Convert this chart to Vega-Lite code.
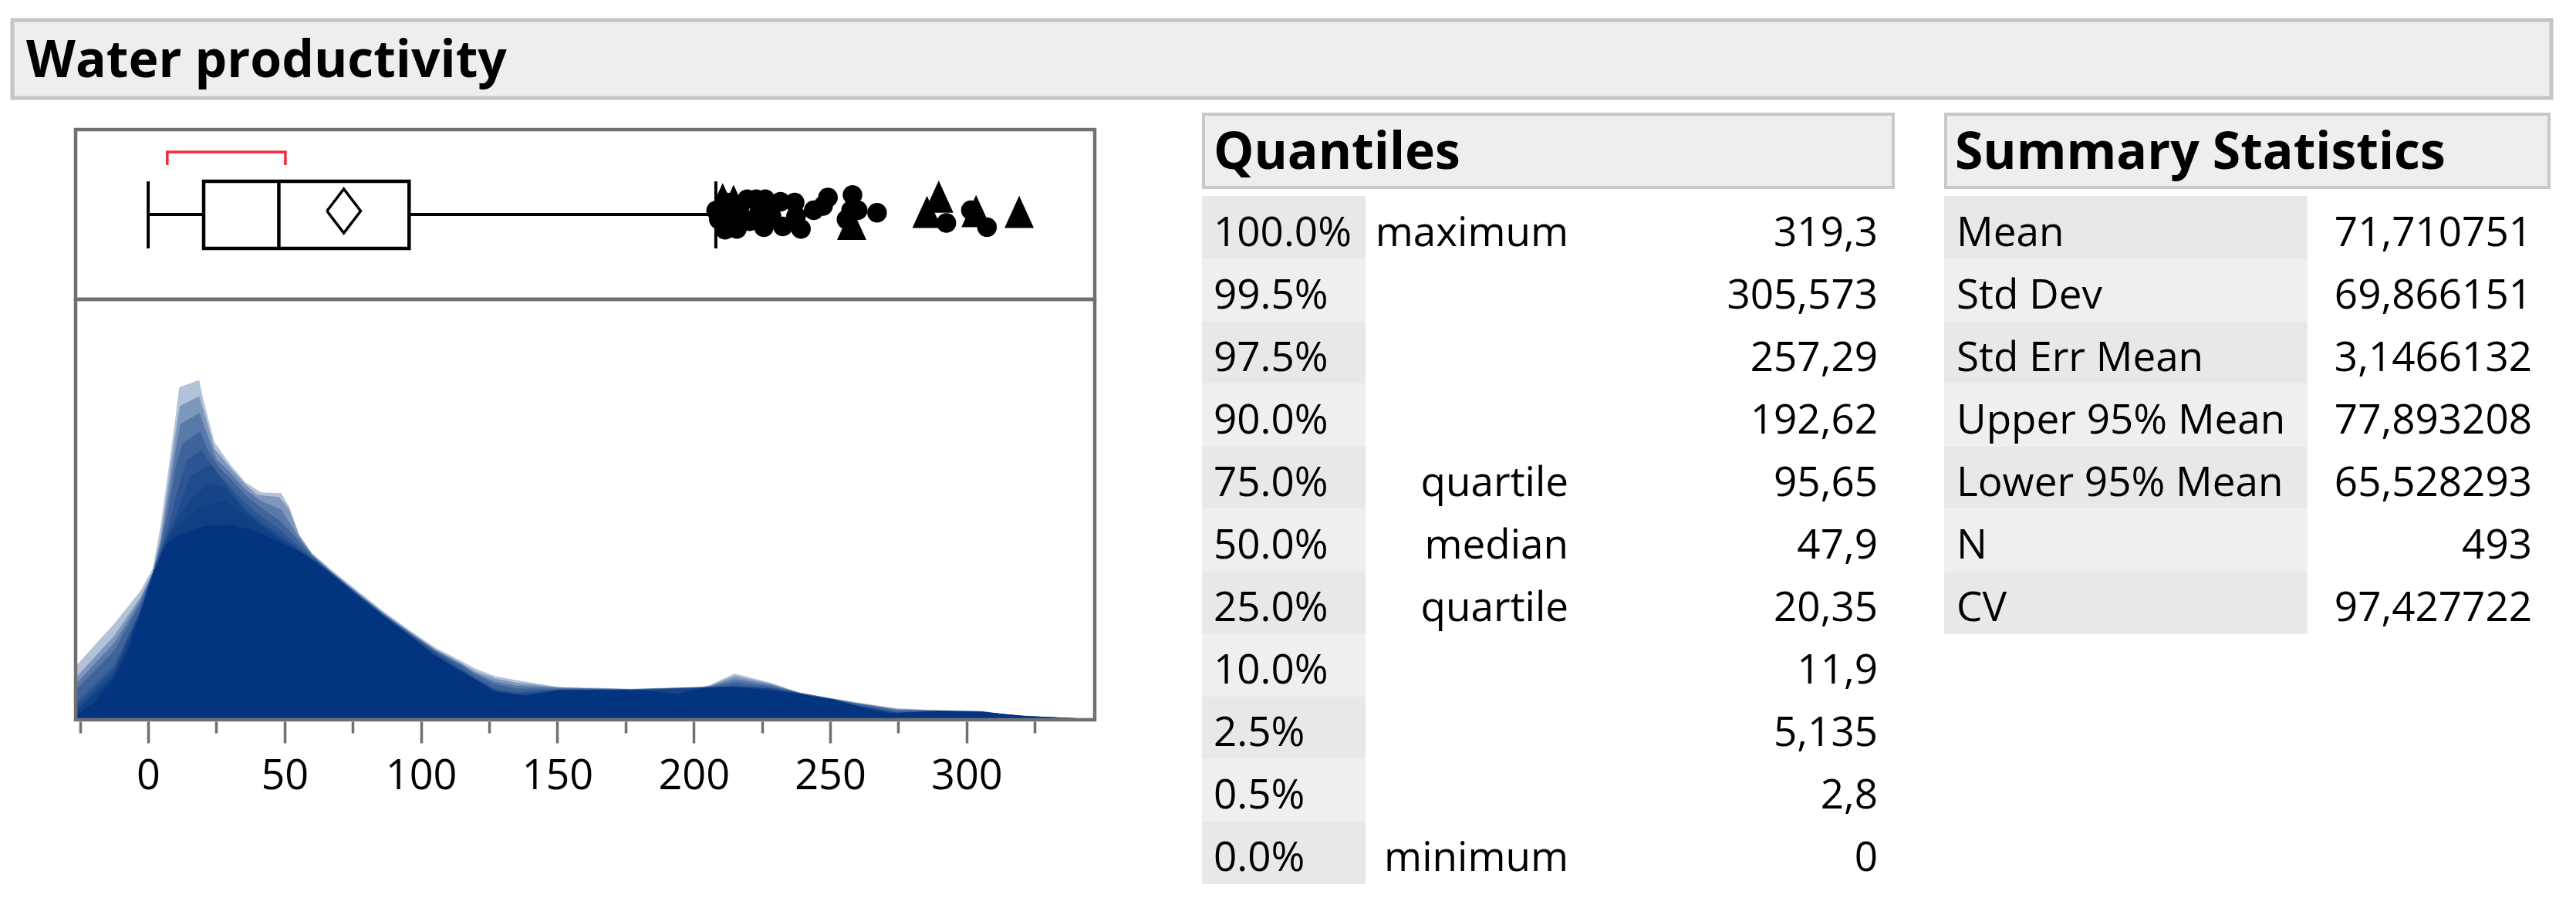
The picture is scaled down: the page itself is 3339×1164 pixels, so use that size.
{
"$schema":"https://vega.github.io/schema/vega-lite/v6.json",
"width":3339,"height":1164,"autosize":"none","padding":0,"background":"white",
"config":{"view":{"stroke":null},"font":"Open Sans"},
"datasets":{
 "title":[{"text":"Water productivity"}],
 "qhead":[{"text":"Quantiles"}],
 "shead":[{"text":"Summary Statistics"}],
 "quantiles":[
  {"row":0,"pct":"100.0%","label":"maximum","value":"319,3"},
  {"row":1,"pct":"99.5%","label":"","value":"305,573"},
  {"row":2,"pct":"97.5%","label":"","value":"257,29"},
  {"row":3,"pct":"90.0%","label":"","value":"192,62"},
  {"row":4,"pct":"75.0%","label":"quartile","value":"95,65"},
  {"row":5,"pct":"50.0%","label":"median","value":"47,9"},
  {"row":6,"pct":"25.0%","label":"quartile","value":"20,35"},
  {"row":7,"pct":"10.0%","label":"","value":"11,9"},
  {"row":8,"pct":"2.5%","label":"","value":"5,135"},
  {"row":9,"pct":"0.5%","label":"","value":"2,8"},
  {"row":10,"pct":"0.0%","label":"minimum","value":"0"}],
 "summary":[
  {"row":0,"stat":"Mean","value":"71,710751"},
  {"row":1,"stat":"Std Dev","value":"69,866151"},
  {"row":2,"stat":"Std Err Mean","value":"3,1466132"},
  {"row":3,"stat":"Upper 95% Mean","value":"77,893208"},
  {"row":4,"stat":"Lower 95% Mean","value":"65,528293"},
  {"row":5,"stat":"N","value":"493"},
  {"row":6,"stat":"CV","value":"97,427722"}],
 "box":[{"min":0,"q1":20.35,"median":47.9,"q3":95.65,"upperWhisker":208.1}],
 "meanDiamond":[
  {"i":0,"v":65.528293,"k":"mid"},
  {"i":1,"v":71.710751,"k":"top"},
  {"i":2,"v":77.893208,"k":"mid"},
  {"i":3,"v":71.710751,"k":"bottom"},
  {"i":4,"v":65.528293,"k":"mid"}],
 "shortestHalf":[
  {"i":0,"v":7.0,"k":"low"},
  {"i":1,"v":7.0,"k":"high"},
  {"i":2,"v":50.3,"k":"high"},
  {"i":3,"v":50.3,"k":"low"}],
 "outliers":[
  {"v":210.6,"jitter":0.18,"marker":"triangle"},
  {"v":214.6,"jitter":0.16,"marker":"triangle"},
  {"v":257.9,"jitter":-0.11,"marker":"triangle"},
  {"v":289.8,"jitter":0.21,"marker":"triangle"},
  {"v":285.5,"jitter":0.03,"marker":"triangle"},
  {"v":303.5,"jitter":0.04,"marker":"triangle"},
  {"v":319.3,"jitter":0.03,"marker":"triangle"},
  {"v":208.2,"jitter":0.045,"marker":"circle"},
  {"v":211.5,"jitter":-0.18,"marker":"circle"},
  {"v":215.8,"jitter":-0.17,"marker":"circle"},
  {"v":212.5,"jitter":0.14,"marker":"circle"},
  {"v":216.7,"jitter":0.07,"marker":"circle"},
  {"v":219.6,"jitter":0.18,"marker":"circle"},
  {"v":222.9,"jitter":0.18,"marker":"circle"},
  {"v":226.2,"jitter":0.18,"marker":"circle"},
  {"v":225.7,"jitter":-0.15,"marker":"circle"},
  {"v":220.5,"jitter":-0.08,"marker":"circle"},
  {"v":228.5,"jitter":-0.02,"marker":"circle"},
  {"v":231.8,"jitter":0.15,"marker":"circle"},
  {"v":232.7,"jitter":-0.14,"marker":"circle"},
  {"v":237.0,"jitter":0.14,"marker":"circle"},
  {"v":239.3,"jitter":-0.17,"marker":"circle"},
  {"v":237.5,"jitter":-0.02,"marker":"circle"},
  {"v":209.2,"jitter":-0.06,"marker":"circle"},
  {"v":214.4,"jitter":-0.06,"marker":"circle"},
  {"v":223.8,"jitter":0.01,"marker":"circle"},
  {"v":244.0,"jitter":0.05,"marker":"circle"},
  {"v":249.2,"jitter":0.2,"marker":"circle"},
  {"v":247.4,"jitter":0.1,"marker":"circle"},
  {"v":258.2,"jitter":0.23,"marker":"circle"},
  {"v":257.7,"jitter":0.05,"marker":"circle"},
  {"v":260.1,"jitter":0.05,"marker":"circle"},
  {"v":267.2,"jitter":0.02,"marker":"circle"},
  {"v":256.0,"jitter":-0.06,"marker":"circle"},
  {"v":292.6,"jitter":-0.1,"marker":"circle"},
  {"v":301.6,"jitter":0.05,"marker":"circle"},
  {"v":307.5,"jitter":-0.15,"marker":"circle"}],
 "density":[
  {"layer":"L1","v":-26.6,"d":0.127},{"layer":"L1","v":-12.4,"d":0.229},{"layer":"L1","v":-3,"d":0.305},{"layer":"L1","v":1.7,"d":0.36},{"layer":"L1","v":4.5,"d":0.459},{"layer":"L1","v":7.4,"d":0.593},{"layer":"L1","v":9.7,"d":0.703},{"layer":"L1","v":11.4,"d":0.791},{"layer":"L1","v":18.7,"d":0.808},{"layer":"L1","v":20.1,"d":0.764},{"layer":"L1","v":24.3,"d":0.66},{"layer":"L1","v":30,"d":0.608},{"layer":"L1","v":35.6,"d":0.565},{"layer":"L1","v":41.3,"d":0.541},{"layer":"L1","v":48.8,"d":0.539},{"layer":"L1","v":51.7,"d":0.507},{"layer":"L1","v":55.4,"d":0.44},{"layer":"L1","v":60.1,"d":0.397},{"layer":"L1","v":67.7,"d":0.354},{"layer":"L1","v":77.1,"d":0.305},{"layer":"L1","v":86.5,"d":0.257},{"layer":"L1","v":95.9,"d":0.213},{"layer":"L1","v":105.4,"d":0.171},{"layer":"L1","v":114.8,"d":0.14},{"layer":"L1","v":119.8,"d":0.122},{"layer":"L1","v":127,"d":0.104},{"layer":"L1","v":135,"d":0.094},{"layer":"L1","v":150.6,"d":0.078},{"layer":"L1","v":177,"d":0.074},{"layer":"L1","v":203.3,"d":0.079},{"layer":"L1","v":206,"d":0.083},{"layer":"L1","v":215,"d":0.11},{"layer":"L1","v":228.2,"d":0.088},{"layer":"L1","v":239,"d":0.064},{"layer":"L1","v":259,"d":0.042},{"layer":"L1","v":274.6,"d":0.027},{"layer":"L1","v":290,"d":0.023},{"layer":"L1","v":305.7,"d":0.021},{"layer":"L1","v":315,"d":0.013},{"layer":"L1","v":329,"d":0.007},{"layer":"L1","v":347,"d":0.002},
  {"layer":"L2","v":-26.6,"d":0.1},{"layer":"L2","v":-12.4,"d":0.2},{"layer":"L2","v":-3,"d":0.29},{"layer":"L2","v":1.7,"d":0.352},{"layer":"L2","v":4.5,"d":0.43},{"layer":"L2","v":7.4,"d":0.56},{"layer":"L2","v":10,"d":0.68},{"layer":"L2","v":11.6,"d":0.746},{"layer":"L2","v":18.7,"d":0.77},{"layer":"L2","v":21,"d":0.72},{"layer":"L2","v":24.3,"d":0.645},{"layer":"L2","v":30,"d":0.6},{"layer":"L2","v":35.6,"d":0.56},{"layer":"L2","v":40,"d":0.535},{"layer":"L2","v":48,"d":0.53},{"layer":"L2","v":51.7,"d":0.5},{"layer":"L2","v":55.4,"d":0.438},{"layer":"L2","v":60.1,"d":0.393},{"layer":"L2","v":67.7,"d":0.35},{"layer":"L2","v":77.1,"d":0.301},{"layer":"L2","v":86.5,"d":0.253},{"layer":"L2","v":95.9,"d":0.209},{"layer":"L2","v":105.4,"d":0.167},{"layer":"L2","v":114.8,"d":0.135},{"layer":"L2","v":119.8,"d":0.115},{"layer":"L2","v":127,"d":0.098},{"layer":"L2","v":135,"d":0.088},{"layer":"L2","v":150.6,"d":0.077},{"layer":"L2","v":177,"d":0.073},{"layer":"L2","v":203.3,"d":0.078},{"layer":"L2","v":206,"d":0.081},{"layer":"L2","v":215,"d":0.104},{"layer":"L2","v":228.2,"d":0.086},{"layer":"L2","v":239,"d":0.064},{"layer":"L2","v":259,"d":0.041},{"layer":"L2","v":274.6,"d":0.026},{"layer":"L2","v":290,"d":0.022},{"layer":"L2","v":305.7,"d":0.02},{"layer":"L2","v":315,"d":0.012},{"layer":"L2","v":329,"d":0.006},{"layer":"L2","v":347,"d":0.002},
  {"layer":"Lb","v":-26.6,"d":0.085},{"layer":"Lb","v":-12.4,"d":0.183},{"layer":"Lb","v":-3,"d":0.282},{"layer":"Lb","v":1.7,"d":0.351},{"layer":"Lb","v":4.5,"d":0.42},{"layer":"Lb","v":7.4,"d":0.53},{"layer":"Lb","v":10,"d":0.64},{"layer":"Lb","v":11.8,"d":0.703},{"layer":"Lb","v":18.9,"d":0.73},{"layer":"Lb","v":21.5,"d":0.68},{"layer":"Lb","v":25,"d":0.62},{"layer":"Lb","v":30,"d":0.588},{"layer":"Lb","v":35.6,"d":0.548},{"layer":"Lb","v":41.3,"d":0.52},{"layer":"Lb","v":48.8,"d":0.5},{"layer":"Lb","v":55.4,"d":0.432},{"layer":"Lb","v":60.1,"d":0.392},{"layer":"Lb","v":67.7,"d":0.349},{"layer":"Lb","v":77.1,"d":0.3},{"layer":"Lb","v":86.5,"d":0.252},{"layer":"Lb","v":95.9,"d":0.208},{"layer":"Lb","v":105.4,"d":0.165},{"layer":"Lb","v":114.8,"d":0.132},{"layer":"Lb","v":119.8,"d":0.111},{"layer":"Lb","v":127,"d":0.091},{"layer":"Lb","v":135,"d":0.081},{"layer":"Lb","v":150.6,"d":0.076},{"layer":"Lb","v":177,"d":0.073},{"layer":"Lb","v":203.3,"d":0.078},{"layer":"Lb","v":206,"d":0.08},{"layer":"Lb","v":215,"d":0.097},{"layer":"Lb","v":228.2,"d":0.083},{"layer":"Lb","v":239,"d":0.064},{"layer":"Lb","v":259,"d":0.04},{"layer":"Lb","v":274.6,"d":0.024},{"layer":"Lb","v":290,"d":0.022},{"layer":"Lb","v":305.7,"d":0.02},{"layer":"Lb","v":315,"d":0.012},{"layer":"Lb","v":329,"d":0.006},{"layer":"Lb","v":347,"d":0.002},
  {"layer":"L3","v":-26.6,"d":0.07},{"layer":"L3","v":-12.4,"d":0.165},{"layer":"L3","v":-3,"d":0.275},{"layer":"L3","v":1.7,"d":0.35},{"layer":"L3","v":4.5,"d":0.41},{"layer":"L3","v":7.4,"d":0.5},{"layer":"L3","v":10,"d":0.6},{"layer":"L3","v":12.5,"d":0.657},{"layer":"L3","v":19.1,"d":0.687},{"layer":"L3","v":22,"d":0.64},{"layer":"L3","v":26,"d":0.6},{"layer":"L3","v":30,"d":0.575},{"layer":"L3","v":35.6,"d":0.535},{"layer":"L3","v":41.3,"d":0.505},{"layer":"L3","v":48.8,"d":0.47},{"layer":"L3","v":55.4,"d":0.425},{"layer":"L3","v":60.1,"d":0.39},{"layer":"L3","v":67.7,"d":0.348},{"layer":"L3","v":77.1,"d":0.298},{"layer":"L3","v":86.5,"d":0.25},{"layer":"L3","v":95.9,"d":0.206},{"layer":"L3","v":105.4,"d":0.163},{"layer":"L3","v":114.8,"d":0.13},{"layer":"L3","v":119.8,"d":0.108},{"layer":"L3","v":127,"d":0.085},{"layer":"L3","v":135,"d":0.075},{"layer":"L3","v":150.6,"d":0.074},{"layer":"L3","v":177,"d":0.072},{"layer":"L3","v":203.3,"d":0.077},{"layer":"L3","v":206,"d":0.079},{"layer":"L3","v":215,"d":0.09},{"layer":"L3","v":228.2,"d":0.08},{"layer":"L3","v":239,"d":0.064},{"layer":"L3","v":259,"d":0.04},{"layer":"L3","v":274.6,"d":0.022},{"layer":"L3","v":290,"d":0.022},{"layer":"L3","v":305.7,"d":0.02},{"layer":"L3","v":315,"d":0.011},{"layer":"L3","v":329,"d":0.006},{"layer":"L3","v":347,"d":0.002},
  {"layer":"L4","v":-26.6,"d":0.04},{"layer":"L4","v":-12.4,"d":0.13},{"layer":"L4","v":-3,"d":0.26},{"layer":"L4","v":1.7,"d":0.35},{"layer":"L4","v":4.5,"d":0.4},{"layer":"L4","v":7.4,"d":0.46},{"layer":"L4","v":11,"d":0.55},{"layer":"L4","v":14,"d":0.617},{"layer":"L4","v":19.6,"d":0.642},{"layer":"L4","v":25,"d":0.59},{"layer":"L4","v":30,"d":0.555},{"layer":"L4","v":35.6,"d":0.515},{"layer":"L4","v":41.3,"d":0.485},{"layer":"L4","v":48.8,"d":0.45},{"layer":"L4","v":55.4,"d":0.412},{"layer":"L4","v":60.1,"d":0.387},{"layer":"L4","v":67.7,"d":0.346},{"layer":"L4","v":77.1,"d":0.296},{"layer":"L4","v":86.5,"d":0.248},{"layer":"L4","v":95.9,"d":0.203},{"layer":"L4","v":105.4,"d":0.16},{"layer":"L4","v":114.8,"d":0.122},{"layer":"L4","v":119.8,"d":0.1},{"layer":"L4","v":127,"d":0.075},{"layer":"L4","v":135,"d":0.066},{"layer":"L4","v":150.6,"d":0.072},{"layer":"L4","v":177,"d":0.071},{"layer":"L4","v":203.3,"d":0.076},{"layer":"L4","v":215,"d":0.082},{"layer":"L4","v":228.2,"d":0.076},{"layer":"L4","v":239,"d":0.063},{"layer":"L4","v":259,"d":0.036},{"layer":"L4","v":274.6,"d":0.018},{"layer":"L4","v":290,"d":0.021},{"layer":"L4","v":305.7,"d":0.019},{"layer":"L4","v":321,"d":0.009},{"layer":"L4","v":347,"d":0.002},
  {"layer":"L5","v":-26.6,"d":0.03},{"layer":"L5","v":-12.4,"d":0.12},{"layer":"L5","v":-3,"d":0.257},{"layer":"L5","v":1.7,"d":0.348},{"layer":"L5","v":4.5,"d":0.395},{"layer":"L5","v":7.4,"d":0.44},{"layer":"L5","v":11,"d":0.5},{"layer":"L5","v":15.4,"d":0.58},{"layer":"L5","v":23.4,"d":0.608},{"layer":"L5","v":27,"d":0.57},{"layer":"L5","v":30,"d":0.545},{"layer":"L5","v":35.6,"d":0.5},{"layer":"L5","v":41.3,"d":0.47},{"layer":"L5","v":48.8,"d":0.437},{"layer":"L5","v":55.4,"d":0.405},{"layer":"L5","v":60.1,"d":0.384},{"layer":"L5","v":67.7,"d":0.345},{"layer":"L5","v":77.1,"d":0.295},{"layer":"L5","v":86.5,"d":0.247},{"layer":"L5","v":95.9,"d":0.202},{"layer":"L5","v":105.4,"d":0.158},{"layer":"L5","v":114.8,"d":0.118},{"layer":"L5","v":119.8,"d":0.098},{"layer":"L5","v":127,"d":0.071},{"layer":"L5","v":135,"d":0.062},{"layer":"L5","v":150.6,"d":0.071},{"layer":"L5","v":177,"d":0.071},{"layer":"L5","v":203.3,"d":0.076},{"layer":"L5","v":215,"d":0.08},{"layer":"L5","v":228.2,"d":0.075},{"layer":"L5","v":239,"d":0.062},{"layer":"L5","v":259,"d":0.034},{"layer":"L5","v":274.6,"d":0.016},{"layer":"L5","v":290,"d":0.021},{"layer":"L5","v":305.7,"d":0.019},{"layer":"L5","v":321,"d":0.009},{"layer":"L5","v":347,"d":0.002},
  {"layer":"L6","v":-26.6,"d":0.02},{"layer":"L6","v":-12.4,"d":0.11},{"layer":"L6","v":-3,"d":0.253},{"layer":"L6","v":1.7,"d":0.347},{"layer":"L6","v":6,"d":0.42},{"layer":"L6","v":11,"d":0.48},{"layer":"L6","v":16,"d":0.53},{"layer":"L6","v":22,"d":0.56},{"layer":"L6","v":28,"d":0.555},{"layer":"L6","v":35.6,"d":0.495},{"layer":"L6","v":41.3,"d":0.465},{"layer":"L6","v":48.8,"d":0.43},{"layer":"L6","v":55.4,"d":0.402},{"layer":"L6","v":60.1,"d":0.382},{"layer":"L6","v":67.7,"d":0.344},{"layer":"L6","v":77.1,"d":0.294},{"layer":"L6","v":86.5,"d":0.246},{"layer":"L6","v":95.9,"d":0.201},{"layer":"L6","v":104,"d":0.158},{"layer":"L6","v":112,"d":0.126},{"layer":"L6","v":119.6,"d":0.098},{"layer":"L6","v":127,"d":0.069},{"layer":"L6","v":138.2,"d":0.059},{"layer":"L6","v":150.6,"d":0.071},{"layer":"L6","v":181.6,"d":0.07},{"layer":"L6","v":203.3,"d":0.076},{"layer":"L6","v":215,"d":0.079},{"layer":"L6","v":228.2,"d":0.074},{"layer":"L6","v":239,"d":0.061},{"layer":"L6","v":259,"d":0.033},{"layer":"L6","v":274.6,"d":0.016},{"layer":"L6","v":290,"d":0.021},{"layer":"L6","v":305.7,"d":0.019},{"layer":"L6","v":321,"d":0.009},{"layer":"L6","v":347,"d":0.002},
  {"layer":"L7","v":-26.6,"d":0.015},{"layer":"L7","v":-12.4,"d":0.105},{"layer":"L7","v":-3,"d":0.251},{"layer":"L7","v":1.7,"d":0.346},{"layer":"L7","v":6.4,"d":0.418},{"layer":"L7","v":12,"d":0.47},{"layer":"L7","v":20,"d":0.51},{"layer":"L7","v":28,"d":0.52},{"layer":"L7","v":35,"d":0.49},{"layer":"L7","v":41.3,"d":0.46},{"layer":"L7","v":48.8,"d":0.425},{"layer":"L7","v":56,"d":0.398},{"layer":"L7","v":60.1,"d":0.381},{"layer":"L7","v":67.7,"d":0.343},{"layer":"L7","v":77.1,"d":0.293},{"layer":"L7","v":86.5,"d":0.245},{"layer":"L7","v":95.9,"d":0.2},{"layer":"L7","v":104,"d":0.158},{"layer":"L7","v":112,"d":0.125},{"layer":"L7","v":119.6,"d":0.097},{"layer":"L7","v":127,"d":0.068},{"layer":"L7","v":138.2,"d":0.058},{"layer":"L7","v":150.6,"d":0.07},{"layer":"L7","v":181.6,"d":0.07},{"layer":"L7","v":194,"d":0.063},{"layer":"L7","v":203.3,"d":0.076},{"layer":"L7","v":215,"d":0.078},{"layer":"L7","v":228.2,"d":0.072},{"layer":"L7","v":239,"d":0.06},{"layer":"L7","v":259,"d":0.032},{"layer":"L7","v":271.6,"d":0.016},{"layer":"L7","v":290,"d":0.021},{"layer":"L7","v":305.7,"d":0.019},{"layer":"L7","v":321,"d":0.009},{"layer":"L7","v":347,"d":0.002},
  {"layer":"core","v":-26.6,"d":0.01},{"layer":"core","v":-20,"d":0.04},{"layer":"core","v":-12.4,"d":0.1},{"layer":"core","v":-7.7,"d":0.16},{"layer":"core","v":-3,"d":0.25},{"layer":"core","v":1.7,"d":0.345},{"layer":"core","v":6.4,"d":0.415},{"layer":"core","v":11.1,"d":0.44},{"layer":"core","v":20.6,"d":0.461},{"layer":"core","v":30,"d":0.464},{"layer":"core","v":39.4,"d":0.449},{"layer":"core","v":48.8,"d":0.421},{"layer":"core","v":56.4,"d":0.397},{"layer":"core","v":60.1,"d":0.38},{"layer":"core","v":67.7,"d":0.343},{"layer":"core","v":77.1,"d":0.293},{"layer":"core","v":86.5,"d":0.245},{"layer":"core","v":95.9,"d":0.2},{"layer":"core","v":104,"d":0.158},{"layer":"core","v":112,"d":0.125},{"layer":"core","v":119.6,"d":0.097},{"layer":"core","v":127,"d":0.067},{"layer":"core","v":138.2,"d":0.057},{"layer":"core","v":150.6,"d":0.07},{"layer":"core","v":166,"d":0.071},{"layer":"core","v":181.6,"d":0.07},{"layer":"core","v":194,"d":0.061},{"layer":"core","v":203.3,"d":0.076},{"layer":"core","v":212.7,"d":0.078},{"layer":"core","v":222,"d":0.074},{"layer":"core","v":235.9,"d":0.064},{"layer":"core","v":251.4,"d":0.048},{"layer":"core","v":262,"d":0.03},{"layer":"core","v":271.6,"d":0.015},{"layer":"core","v":280,"d":0.018},{"layer":"core","v":290,"d":0.021},{"layer":"core","v":305.7,"d":0.019},{"layer":"core","v":321,"d":0.009},{"layer":"core","v":347,"d":0.002}]
},
"resolve":{"scale":{"x":"independent","y":"independent"},"axis":{"x":"independent","y":"independent"}},
"layer":[
 {"data":{"name":"title"},
  "layer":[
   {"mark":{"type":"rect","fill":"#eeeeee","stroke":"#c4c4c4","strokeWidth":5},
    "encoding":{
     "x":{"datum":0,"type":"quantitative","scale":{"domain":[0,100],"range":[16,3307],"nice":false,"zero":false},"axis":null},
     "x2":{"datum":100},
     "y":{"datum":0,"type":"quantitative","scale":{"domain":[0,100],"range":[127,26],"nice":false,"zero":false},"axis":null},
     "y2":{"datum":100}}},
   {"mark":{"type":"text","align":"left","baseline":"alphabetic","fontSize":66,"fontWeight":"bold","font":"Open Sans","color":"#000000"},
    "encoding":{
     "x":{"datum":0.55,"type":"quantitative","scale":{"domain":[0,100],"range":[16,3307],"nice":false,"zero":false},"axis":null},
     "y":{"datum":26.7,"type":"quantitative","scale":{"domain":[0,100],"range":[127,26],"nice":false,"zero":false},"axis":null},
     "text":{"field":"text"}}}
  ]},
 {"data":{"name":"qhead"},
  "layer":[
   {"mark":{"type":"rect","fill":"#eeeeee","stroke":"#c8c8c8","strokeWidth":4},
    "encoding":{
     "x":{"datum":0,"type":"quantitative","scale":{"domain":[0,100],"range":[1560,2454],"nice":false,"zero":false},"axis":null},
     "x2":{"datum":100},
     "y":{"datum":0,"type":"quantitative","scale":{"domain":[0,100],"range":[243,148],"nice":false,"zero":false},"axis":null},
     "y2":{"datum":100}}},
   {"mark":{"type":"text","align":"left","baseline":"alphabetic","fontSize":66,"fontWeight":"bold","font":"Open Sans","color":"#000000"},
    "encoding":{
     "x":{"datum":1.45,"type":"quantitative","scale":{"domain":[0,100],"range":[1560,2454],"nice":false,"zero":false},"axis":null},
     "y":{"datum":25.3,"type":"quantitative","scale":{"domain":[0,100],"range":[243,148],"nice":false,"zero":false},"axis":null},
     "text":{"field":"text"}}}
  ]},
 {"data":{"name":"shead"},
  "layer":[
   {"mark":{"type":"rect","fill":"#eeeeee","stroke":"#c8c8c8","strokeWidth":4},
    "encoding":{
     "x":{"datum":0,"type":"quantitative","scale":{"domain":[0,100],"range":[2522,3304],"nice":false,"zero":false},"axis":null},
     "x2":{"datum":100},
     "y":{"datum":0,"type":"quantitative","scale":{"domain":[0,100],"range":[243,148],"nice":false,"zero":false},"axis":null},
     "y2":{"datum":100}}},
   {"mark":{"type":"text","align":"left","baseline":"alphabetic","fontSize":66,"fontWeight":"bold","font":"Open Sans","color":"#000000"},
    "encoding":{
     "x":{"datum":1.53,"type":"quantitative","scale":{"domain":[0,100],"range":[2522,3304],"nice":false,"zero":false},"axis":null},
     "y":{"datum":25.3,"type":"quantitative","scale":{"domain":[0,100],"range":[243,148],"nice":false,"zero":false},"axis":null},
     "text":{"field":"text"}}}
  ]},
 {"data":{"name":"quantiles"},
  "encoding":{
   "y":{"field":"row","type":"ordinal","scale":{"type":"band","domain":[0,1,2,3,4,5,6,7,8,9,10],"range":[254,1146],"paddingInner":0,"paddingOuter":0},"axis":null}},
  "layer":[
   {"mark":{"type":"rect"},
    "encoding":{
     "x":{"datum":0,"type":"quantitative","scale":{"domain":[0,100],"range":[1558,2456],"nice":false,"zero":false},"axis":null},
     "x2":{"datum":23.6},
     "fill":{"condition":{"test":"datum.row % 2 === 0","value":"#e8e8e8"},"value":"#efefef"}}},
   {"mark":{"type":"text","align":"left","baseline":"alphabetic","dy":24,"fontSize":53,"font":"Open Sans","color":"#000000"},
    "encoding":{
     "x":{"datum":1.67,"type":"quantitative","scale":{"domain":[0,100],"range":[1558,2456],"nice":false,"zero":false},"axis":null},
     "text":{"field":"pct"}}},
   {"mark":{"type":"text","align":"right","baseline":"alphabetic","dy":24,"fontSize":53,"font":"Open Sans","color":"#000000"},
    "encoding":{
     "x":{"datum":52.9,"type":"quantitative","scale":{"domain":[0,100],"range":[1558,2456],"nice":false,"zero":false},"axis":null},
     "text":{"field":"label"}}},
   {"mark":{"type":"text","align":"right","baseline":"alphabetic","dy":24,"fontSize":53,"font":"Open Sans","color":"#000000"},
    "encoding":{
     "x":{"datum":97.55,"type":"quantitative","scale":{"domain":[0,100],"range":[1558,2456],"nice":false,"zero":false},"axis":null},
     "text":{"field":"value"}}}
  ]},
 {"data":{"name":"summary"},
  "encoding":{
   "y":{"field":"row","type":"ordinal","scale":{"type":"band","domain":[0,1,2,3,4,5,6],"range":[254,821.7],"paddingInner":0,"paddingOuter":0},"axis":null}},
  "layer":[
   {"mark":{"type":"rect"},
    "encoding":{
     "x":{"datum":0,"type":"quantitative","scale":{"domain":[0,100],"range":[2520,3306],"nice":false,"zero":false},"axis":null},
     "x2":{"datum":59.9},
     "fill":{"condition":{"test":"datum.row % 2 === 0","value":"#e8e8e8"},"value":"#efefef"}}},
   {"mark":{"type":"text","align":"left","baseline":"alphabetic","dy":24,"fontSize":53,"font":"Open Sans","color":"#000000"},
    "encoding":{
     "x":{"datum":2.04,"type":"quantitative","scale":{"domain":[0,100],"range":[2520,3306],"nice":false,"zero":false},"axis":null},
     "text":{"field":"stat"}}},
   {"mark":{"type":"text","align":"right","baseline":"alphabetic","dy":24,"fontSize":53,"font":"Open Sans","color":"#000000"},
    "encoding":{
     "x":{"datum":96.95,"type":"quantitative","scale":{"domain":[0,100],"range":[2520,3306],"nice":false,"zero":false},"axis":null},
     "text":{"field":"value"}}}
  ]},
 {"data":{"name":"density"},
  "encoding":{
   "x":{"field":"v","type":"quantitative","scale":{"domain":[-26.6,347],"range":[98,1419],"nice":false,"zero":false},
        "axis":{"orient":"bottom","offset":-229,"values":[-25,0,25,50,75,100,125,150,175,200,225,250,275,300,325],"domain":false,"grid":false,"title":null,"tickColor":"#707070","tickWidth":3.5,"tickSize":{"condition":{"test":"datum.value % 50 === 0","value":28},"value":15},"labelExpr":"datum.value % 50 === 0 ? datum.label : ''","labelFont":"Open Sans","labelFontSize":54,"labelColor":"#000000","labelPadding":16,"labelOverlap":false,"labelFlush":false,"labelBound":false}},
   "y":{"field":"d","type":"quantitative","stack":null,"scale":{"domain":[0,1],"range":[933,388],"nice":false,"zero":true},"axis":null},
   "y2":{"datum":0},
   "detail":{"field":"layer"}},
  "layer":[
   {"transform":[{"filter":"datum.layer !== 'core'"}],"mark":{"type":"area","color":"#03347f","opacity":0.3,"interpolate":"linear"}},
   {"transform":[{"filter":"datum.layer === 'core'"}],"mark":{"type":"area","color":"#03347f","opacity":1,"interpolate":"linear"}}
  ]},
 {"data":{"name":"box"},
  "mark":{"type":"rect","filled":false,"stroke":"#707070","strokeWidth":4.5},
  "encoding":{
   "x":{"datum":-26.6,"type":"quantitative","scale":{"domain":[-26.6,347],"range":[98,1419],"nice":false,"zero":false},"axis":null},
   "x2":{"datum":347},
   "y":{"datum":0,"type":"quantitative","scale":{"domain":[0,1],"range":[933,388],"nice":false,"zero":false},"axis":null},
   "y2":{"datum":1}}},
 {"layer":[
   {"data":{"name":"box"},"mark":{"type":"rect","filled":false,"stroke":"#707070","strokeWidth":4.5},
    "encoding":{
     "x":{"datum":-26.6,"type":"quantitative","scale":{"domain":[-26.6,347],"range":[98,1419],"nice":false,"zero":false},"axis":null},
     "x2":{"datum":347},
     "y":{"datum":-1,"type":"quantitative","scale":{"domain":[-1,1],"range":[388,168],"nice":false,"zero":false},"axis":null},
     "y2":{"datum":1}}},
   {"data":{"name":"box"},"mark":{"type":"rect","filled":false,"stroke":"#000000","strokeWidth":4.5},
    "encoding":{
     "x":{"field":"q1","type":"quantitative","scale":{"domain":[-26.6,347],"range":[98,1419],"nice":false,"zero":false},"axis":null},
     "x2":{"field":"q3"},
     "y":{"datum":-0.4,"type":"quantitative","scale":{"domain":[-1,1],"range":[388,168],"nice":false,"zero":false},"axis":null},
     "y2":{"datum":0.39}}},
   {"data":{"name":"box"},"mark":{"type":"rule","color":"#000000","strokeWidth":4.5},
    "encoding":{
     "x":{"field":"median","type":"quantitative","scale":{"domain":[-26.6,347],"range":[98,1419],"nice":false,"zero":false},"axis":null},
     "y":{"datum":-0.4,"type":"quantitative","scale":{"domain":[-1,1],"range":[388,168],"nice":false,"zero":false},"axis":null},
     "y2":{"datum":0.39}}},
   {"data":{"name":"box"},"mark":{"type":"rule","color":"#000000","strokeWidth":4},
    "encoding":{
     "x":{"field":"min","type":"quantitative","scale":{"domain":[-26.6,347],"range":[98,1419],"nice":false,"zero":false},"axis":null},
     "x2":{"field":"q1"},
     "y":{"datum":0,"type":"quantitative","scale":{"domain":[-1,1],"range":[388,168],"nice":false,"zero":false},"axis":null}}},
   {"data":{"name":"box"},"mark":{"type":"rule","color":"#000000","strokeWidth":4},
    "encoding":{
     "x":{"field":"q3","type":"quantitative","scale":{"domain":[-26.6,347],"range":[98,1419],"nice":false,"zero":false},"axis":null},
     "x2":{"field":"upperWhisker"},
     "y":{"datum":0,"type":"quantitative","scale":{"domain":[-1,1],"range":[388,168],"nice":false,"zero":false},"axis":null}}},
   {"data":{"name":"box"},"mark":{"type":"rule","color":"#000000","strokeWidth":4},
    "encoding":{
     "x":{"field":"min","type":"quantitative","scale":{"domain":[-26.6,347],"range":[98,1419],"nice":false,"zero":false},"axis":null},
     "y":{"datum":-0.4,"type":"quantitative","scale":{"domain":[-1,1],"range":[388,168],"nice":false,"zero":false},"axis":null},
     "y2":{"datum":0.39}}},
   {"data":{"name":"box"},"mark":{"type":"rule","color":"#000000","strokeWidth":4},
    "encoding":{
     "x":{"field":"upperWhisker","type":"quantitative","scale":{"domain":[-26.6,347],"range":[98,1419],"nice":false,"zero":false},"axis":null},
     "y":{"datum":-0.4,"type":"quantitative","scale":{"domain":[-1,1],"range":[388,168],"nice":false,"zero":false},"axis":null},
     "y2":{"datum":0.39}}},
   {"data":{"name":"outliers"},"transform":[{"filter":"datum.marker === 'triangle'"}],
    "mark":{"type":"point","shape":"M0,-1.1L1,1.1L-1,1.1Z","filled":true,"color":"#000000","opacity":1,"size":1444,"strokeWidth":0},
    "encoding":{
     "x":{"field":"v","type":"quantitative","scale":{"domain":[-26.6,347],"range":[98,1419],"nice":false,"zero":false},"axis":null},
     "y":{"field":"jitter","type":"quantitative","scale":{"domain":[-1,1],"range":[388,168],"nice":false,"zero":false},"axis":null}}},
   {"data":{"name":"outliers"},"transform":[{"filter":"datum.marker === 'circle'"}],
    "mark":{"type":"point","shape":"circle","filled":true,"color":"#000000","opacity":1,"size":650,"strokeWidth":0},
    "encoding":{
     "x":{"field":"v","type":"quantitative","scale":{"domain":[-26.6,347],"range":[98,1419],"nice":false,"zero":false},"axis":null},
     "y":{"field":"jitter","type":"quantitative","scale":{"domain":[-1,1],"range":[388,168],"nice":false,"zero":false},"axis":null}}}
  ]},
 {"data":{"name":"meanDiamond"},
  "mark":{"type":"line","color":"#000000","strokeWidth":3.5,"interpolate":"linear"},
  "encoding":{
   "x":{"field":"v","type":"quantitative","scale":{"domain":[-26.6,347],"range":[98,1419],"nice":false,"zero":false},"axis":null},
   "y":{"field":"k","type":"ordinal","scale":{"type":"point","domain":["bottom","mid","top"],"range":[302,245],"padding":0},"axis":null},
   "order":{"field":"i","type":"quantitative"}}},
 {"data":{"name":"shortestHalf"},
  "mark":{"type":"line","color":"#f8283e","strokeWidth":3.5,"interpolate":"linear"},
  "encoding":{
   "x":{"field":"v","type":"quantitative","scale":{"domain":[-26.6,347],"range":[98,1419],"nice":false,"zero":false},"axis":null},
   "y":{"field":"k","type":"ordinal","scale":{"type":"point","domain":["low","high"],"range":[214,197],"padding":0},"axis":null},
   "order":{"field":"i","type":"quantitative"}}}
]
}
